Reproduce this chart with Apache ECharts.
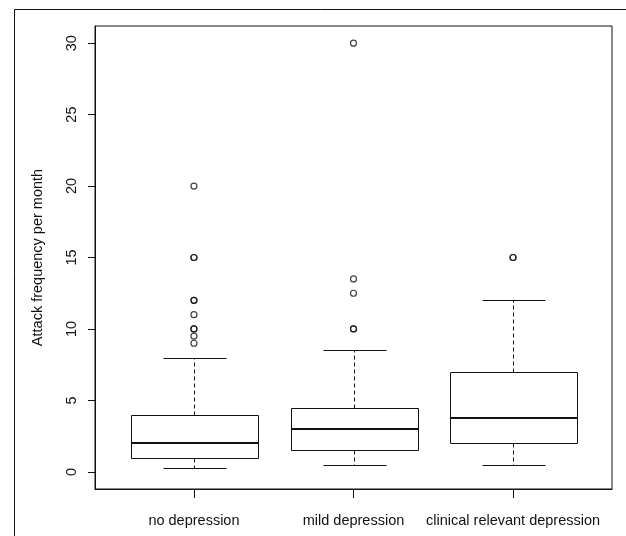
<!DOCTYPE html>
<html>
<head>
<meta charset="utf-8">
<script src="https://cdn.jsdelivr.net/npm/echarts@6/dist/echarts.min.js"></script>
<style>
html,body{margin:0;padding:0;background:#fff;}
#chart{width:626px;height:536px;}
</style>
</head>
<body>
<div id="chart"></div>
<script>
var categories = ['no depression', 'mild depression', 'clinical relevant depression'];
var lowerWhisker = [0.3, 0.5, 0.5];
var q1 = [1, 1.5, 2];
var median = [2, 3, 3.75];
var q3 = [4, 4.5, 7];
var upperWhisker = [8, 8.5, 12];
var outliersNoDep = [20, 15, 15, 12, 12, 11, 10, 10, 9.5, 9];
var outliersMild = [30, 13.5, 12.5, 10, 10];
var outliersClinical = [15, 15];
var yTicks = [0, 5, 10, 15, 20, 25, 30];
var xTicks = [1, 2, 3];

var FONT = 'Liberation Sans, Arial, sans-serif';

var boxData = categories.map(function (c, i) {
  return [i + 1, lowerWhisker[i], q1[i], median[i], q3[i], upperWhisker[i]];
});
var outlierData = [];
[outliersNoDep, outliersMild, outliersClinical].forEach(function (arr, i) {
  arr.forEach(function (v) { outlierData.push([i + 1, v]); });
});

function px(v) { return Math.round(v) + 0.5; }

function renderBox(params, api) {
  var x = api.value(0);
  var pLow = api.coord([x, api.value(1)]);
  var pQ1 = api.coord([x, api.value(2)]);
  var pMed = api.coord([x, api.value(3)]);
  var pQ3 = api.coord([x, api.value(4)]);
  var pHigh = api.coord([x, api.value(5)]);
  var halfBox = api.size([0.4, 0])[0];
  var halfCap = api.size([0.2, 0])[0];
  var cx = px(pMed[0]);
  var stroke = '#111';
  var left = px(cx - halfBox), right = px(cx + halfBox);
  return {
    type: 'group',
    children: [
      { type: 'line', shape: { x1: cx, y1: px(pQ3[1]), x2: cx, y2: px(pHigh[1]) },
        style: { stroke: stroke, lineWidth: 1, lineDash: [4, 3] } },
      { type: 'line', shape: { x1: cx, y1: px(pQ1[1]), x2: cx, y2: px(pLow[1]) },
        style: { stroke: stroke, lineWidth: 1, lineDash: [4, 3] } },
      { type: 'line', shape: { x1: px(cx - halfCap), y1: px(pHigh[1]), x2: px(cx + halfCap), y2: px(pHigh[1]) },
        style: { stroke: stroke, lineWidth: 1 } },
      { type: 'line', shape: { x1: px(cx - halfCap), y1: px(pLow[1]), x2: px(cx + halfCap), y2: px(pLow[1]) },
        style: { stroke: stroke, lineWidth: 1 } },
      { type: 'rect', shape: { x: left, y: px(pQ3[1]), width: right - left, height: px(pQ1[1]) - px(pQ3[1]) },
        style: { fill: 'none', stroke: stroke, lineWidth: 1 } },
      { type: 'line', shape: { x1: left, y1: Math.round(pMed[1]), x2: right, y2: Math.round(pMed[1]) },
        style: { stroke: stroke, lineWidth: 2 } }
    ]
  };
}

var chart = echarts.init(document.getElementById('chart'), null, { renderer: 'canvas' });
chart.setOption({
  animation: false,
  backgroundColor: '#fff',
  textStyle: { fontFamily: FONT },
  graphic: [{
    type: 'rect', z: -1,
    shape: { x: 14.5, y: 9.5, width: 800, height: 800 },
    style: { fill: 'none', stroke: '#111', lineWidth: 1 }
  }],
  grid: {
    left: 95, top: 26, width: 517, height: 463,
    show: true, borderColor: '#111', borderWidth: 1, backgroundColor: 'transparent'
  },
  xAxis: {
    type: 'value', min: 0.38, max: 3.62,
    splitLine: { show: false },
    axisLine: { show: true, onZero: false, lineStyle: { color: '#111' } },
    axisTick: { show: true, customValues: xTicks, length: 9, lineStyle: { color: '#111' } },
    axisLabel: {
      customValues: xTicks, margin: 24, color: '#111', fontSize: 14.5, fontFamily: FONT,
      formatter: function (v) { return categories[Math.round(v) - 1] || ''; }
    }
  },
  yAxis: {
    type: 'value', min: -1.2, max: 31.2,
    splitLine: { show: false },
    axisLine: { show: true, onZero: false, lineStyle: { color: '#111' } },
    axisTick: { show: true, customValues: yTicks, length: 7, lineStyle: { color: '#111' } },
    axisLabel: { customValues: yTicks, rotate: 90, margin: 16, color: '#111', fontSize: 14.5, fontFamily: FONT },
    name: 'Attack frequency per month',
    nameLocation: 'middle', nameRotate: 90, nameGap: 50,
    nameTextStyle: { color: '#111', fontSize: 14.5, fontFamily: FONT }
  },
  series: [
    { type: 'custom', renderItem: renderBox, data: boxData, z: 3,
      encode: { x: 0, y: [1, 2, 3, 4, 5] } },
    { type: 'scatter', data: outlierData, symbol: 'circle', symbolSize: 6, z: 4,
      itemStyle: { color: 'rgba(0,0,0,0)', borderColor: '#111', borderWidth: 1.2 } }
  ]
});
</script>
</body>
</html>
